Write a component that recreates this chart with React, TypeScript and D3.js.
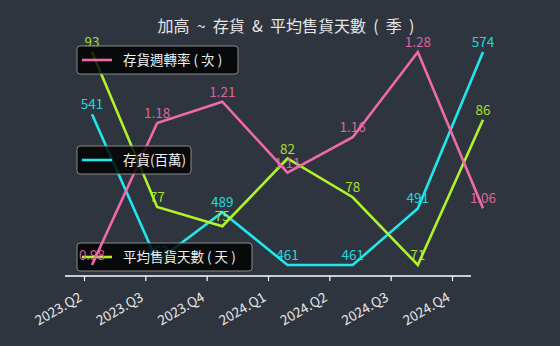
import React, { useEffect, useRef } from 'react';
import * as d3 from 'd3';

// quarters on the x axis
const quarters = ['2023.Q2', '2023.Q3', '2023.Q4', '2024.Q1', '2024.Q2', '2024.Q3', '2024.Q4'];

// inventory turnover (times)
const turnover = [0.98, 1.18, 1.21, 1.11, 1.16, 1.28, 1.06];
// inventory (millions)
const inventory = [541, 463, 489, 461, 461, 491, 574];
// average days to sell inventory
const daysSales = [93, 77, 75, 82, 78, 71, 86];

const labelTurnover = '存貨週轉率 ( 次 )';
const labelInventory = '存貨(百萬)';
const labelDays = '平均售貨天數 ( 天 )';
const title = '加高  ~  存貨  &  平均售貨天數  (  季  )';

function App() {
    const ref = useRef<SVGSVGElement | null>(null);

    useEffect(() => {
        const width = 560;
        const height = 346;
        const font = '"Noto Sans CJK TC", "Noto Sans", sans-serif';

        const svg = d3.select(ref.current);
        svg.selectAll('*').remove();

        svg.append('rect')
            .attr('width', width)
            .attr('height', height)
            .attr('fill', '#2f353e');

        // title
        svg.append('text')
            .attr('x', 286)
            .attr('y', 32)
            .attr('text-anchor', 'middle')
            .style('font-family', font)
            .style('font-size', '16px')
            .style('white-space', 'pre')
            .attr('fill', '#e6e6e6')
            .text(title);

        // the tick axis and the line axis are not aligned in the original
        const xTicks = d3.scalePoint<string>().domain(quarters).range([84, 452]);
        const xLines = d3.scalePoint<string>().domain(quarters).range([92, 483]);

        // x axis
        const axis = svg.append('g').attr('transform', 'translate(0, 276)');
        axis.call(d3.axisBottom(xTicks).tickSize(5).tickSizeOuter(0) as any);
        axis.select('.domain').remove();
        axis.append('line')
            .attr('x1', 65).attr('x2', 471)
            .attr('stroke', '#ffffff')
            .attr('stroke-width', 1.5);
        axis.selectAll('.tick line').attr('stroke', '#ffffff').attr('stroke-width', 1.2);
        axis.selectAll('.tick text')
            .attr('fill', '#e6e6e6')
            .style('font-family', font)
            .style('font-size', '13.5px')
            .attr('text-anchor', 'end')
            .attr('x', 0)
            .attr('y', 0)
            .attr('dy', '0.35em')
            .attr('transform', 'translate(-4, 20) rotate(-30)');

        // draw one series on its own y scale (twin axes)
        const drawSeries = (values: number[], color: string, fmt: (v: number) => string) => {
            const y = d3.scaleLinear()
                .domain(d3.extent(values) as [number, number])
                .range([265, 52]);
            const line = d3.line<number>()
                .x((_, i) => xLines(quarters[i]) as number)
                .y((d) => y(d));

            svg.append('path')
                .datum(values)
                .attr('d', line)
                .attr('fill', 'none')
                .attr('stroke', color)
                .attr('stroke-width', 2.6);

            svg.append('g')
                .selectAll('text')
                .data(values)
                .enter()
                .append('text')
                .attr('x', (_, i) => xLines(quarters[i]) as number)
                .attr('y', (d) => y(d) - 5)
                .attr('text-anchor', 'middle')
                .style('font-family', font)
                .style('font-size', '13.5px')
                .attr('fill', color)
                .attr('opacity', 0.9)
                .text((d) => fmt(d));
        };

        // legend box
        const drawLegend = (label: string, color: string, top: number, w: number) => {
            const g = svg.append('g').attr('transform', `translate(77, ${top})`);
            g.append('rect')
                .attr('width', w)
                .attr('height', 28)
                .attr('rx', 3)
                .attr('fill', '#000000')
                .attr('fill-opacity', 0.82)
                .attr('stroke', '#8a8a8a')
                .attr('stroke-width', 1);
            g.append('line')
                .attr('x1', 5).attr('x2', 35)
                .attr('y1', 14).attr('y2', 14)
                .attr('stroke', color)
                .attr('stroke-width', 2.6);
            g.append('text')
                .attr('x', 46)
                .attr('y', 19)
                .style('font-family', font)
                .style('font-size', '13.5px')
                .attr('fill', '#f0f0f0')
                .text(label);
        };

        const cyan = '#1ee8ee';
        const lime = '#b0f22c';
        const pink = '#f06aa8';

        // stacking order follows the original: the pink line sits over the days legend
        drawSeries(inventory, cyan, (v) => String(v));
        drawSeries(daysSales, lime, (v) => String(v));
        drawLegend(labelDays, lime, 243, 175);
        drawSeries(turnover, pink, (v) => v.toFixed(2));
        drawLegend(labelTurnover, pink, 46, 161);
        drawLegend(labelInventory, cyan, 146, 114);
    }, []);

    return (
        <div style={{ position: 'fixed', left: 0, top: 0 }}>
            <svg ref={ref} width={560} height={346} style={{ display: 'block' }} />
        </div>
    );
}

export default App;
